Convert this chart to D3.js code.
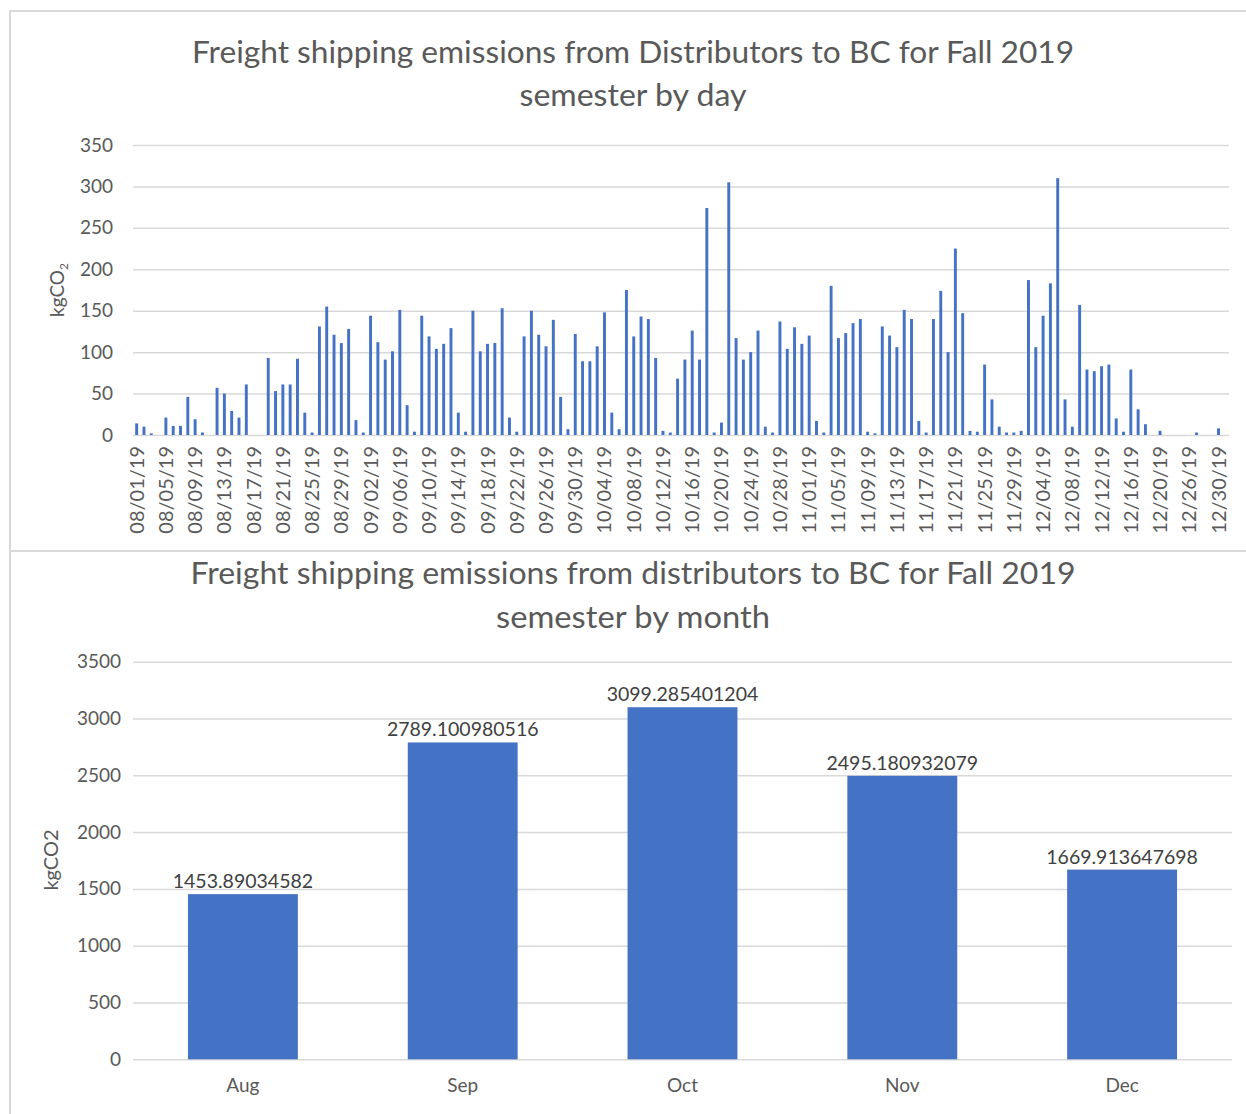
<!DOCTYPE html>
<html>
<head>
<meta charset="utf-8">
<title>Freight shipping emissions</title>
<script src="https://d3js.org/d3.v7.min.js"></script>
<style>
  body { margin: 0; background: #fff; }
  text { font-family: Lato, "Open Sans", sans-serif; }
</style>
</head>
<body>
<script>
// daily categories (dates present in the sheet)
var days = [
  "08/01/19","08/02/19","08/03/19","08/04/19","08/05/19","08/06/19","08/07/19","08/08/19","08/09/19","08/10/19",
  "08/11/19","08/12/19","08/13/19","08/14/19","08/15/19","08/16/19","08/17/19","08/18/19","08/19/19","08/20/19",
  "08/21/19","08/22/19","08/23/19","08/24/19","08/25/19","08/26/19","08/27/19","08/28/19","08/29/19","08/30/19","08/31/19",
  "09/01/19","09/02/19","09/03/19","09/04/19","09/05/19","09/06/19","09/07/19","09/08/19","09/09/19","09/10/19",
  "09/11/19","09/12/19","09/13/19","09/14/19","09/15/19","09/16/19","09/17/19","09/18/19","09/19/19","09/20/19",
  "09/21/19","09/22/19","09/23/19","09/24/19","09/25/19","09/26/19","09/27/19","09/28/19","09/29/19","09/30/19",
  "10/01/19","10/02/19","10/03/19","10/04/19","10/05/19","10/06/19","10/07/19","10/08/19","10/09/19","10/10/19",
  "10/11/19","10/12/19","10/13/19","10/14/19","10/15/19","10/16/19","10/17/19","10/18/19","10/19/19","10/20/19",
  "10/21/19","10/22/19","10/23/19","10/24/19","10/25/19","10/26/19","10/27/19","10/28/19","10/29/19","10/30/19","10/31/19",
  "11/01/19","11/02/19","11/03/19","11/04/19","11/05/19","11/06/19","11/07/19","11/08/19","11/09/19","11/10/19",
  "11/11/19","11/12/19","11/13/19","11/14/19","11/15/19","11/16/19","11/17/19","11/18/19","11/19/19","11/20/19",
  "11/21/19","11/22/19","11/23/19","11/24/19","11/25/19","11/26/19","11/27/19","11/28/19","11/29/19","11/30/19",
  "12/02/19","12/03/19","12/04/19","12/05/19","12/06/19","12/07/19","12/08/19","12/09/19","12/10/19","12/11/19",
  "12/12/19","12/13/19","12/14/19","12/15/19","12/16/19","12/17/19","12/18/19","12/19/19","12/20/19","12/21/19",
  "12/22/19","12/23/19","12/26/19","12/27/19","12/28/19","12/29/19","12/30/19","12/31/19"
];
var dailyKg = [
  14,10,2,0,21,11,11,46,19,3,
  0,57,50,29,21,61,0,0,93,53,
  61,61,92,27,3,131,155,121,111,128,18,
  3,144,112,91,101,151,36,4,144,119,
  104,110,129,27,4,150,101,110,111,153,
  21,4,119,150,121,107,139,46,7,122,
  89,89,107,148,27,7,175,119,143,140,
  93,5,3,68,91,126,91,274,3,15,
  305,117,91,100,126,10,3,137,104,130,110,
  120,17,3,180,117,123,135,140,4,2,
  131,120,106,151,140,17,3,140,174,100,
  225,147,5,4,85,43,10,3,3,5,
  187,106,144,183,310,43,10,157,79,77,
  83,85,20,4,79,31,13,0,5,0,
  0,0,0,3,0,0,8,0
];
var dayTicks = [0,50,100,150,200,250,300,350];

var months = ["Aug","Sep","Oct","Nov","Dec"];
var monthlyKg = [1453.89034582, 2789.100980516, 3099.285401204, 2495.180932079, 1669.913647698];
var monthTicks = [0,500,1000,1500,2000,2500,3000,3500];

var W = 1246, H = 1114;
var blue = "#4472C4", grid = "#d9d9d9", txt = "#595959";

var svg = d3.select("body").append("svg")
  .attr("width", W).attr("height", H);
svg.append("rect").attr("width", W).attr("height", H).attr("fill", "#fff");

// chart frames
svg.append("path")
  .attr("d", "M10,1114V11H1246M10,551H1246")
  .attr("fill", "none").attr("stroke", grid).attr("stroke-width", 2);

function title(g, x, y, str, len) {
  g.append("text").attr("x", x).attr("y", y).attr("text-anchor", "middle")
    .attr("font-size", 30).attr("fill", txt)
    .attr("textLength", len).attr("lengthAdjust", "spacingAndGlyphs")
    .text(str);
}

// ---------- top: by day ----------
var x1 = d3.scaleBand().domain(days).range([133, 1229.5])
  .paddingInner(0.6).paddingOuter(0.3);
var y1 = d3.scaleLinear().domain([0, 350]).range([435, 145]);

var g1 = svg.append("g");
title(g1, 633, 63, "Freight shipping emissions from Distributors to BC for Fall 2019", 882);
title(g1, 633, 106, "semester by day", 227);

var ya1 = g1.append("g").attr("transform", "translate(133,0)")
  .call(d3.axisLeft(y1).tickValues(dayTicks).tickSize(-(1229 - 133)).tickPadding(20));
ya1.select(".domain").remove();
ya1.selectAll("line").attr("stroke", grid).attr("stroke-width", 1.5);
ya1.selectAll("text").attr("fill", txt).attr("font-size", 19);

var xa1 = g1.append("g").attr("transform", "translate(0,435)")
  .call(d3.axisBottom(x1).tickValues(days.filter(function (d, i) { return i % 4 === 0; })).tickSize(0));
xa1.select(".domain").remove();
xa1.selectAll("text")
  .attr("transform", "rotate(-90)")
  .attr("x", -11).attr("y", 0).attr("dy", "0.35em")
  .style("text-anchor", "end")
  .attr("fill", txt).attr("font-size", 20);

g1.selectAll("rect.day").data(dailyKg).enter().append("rect")
  .attr("class", "day")
  .attr("x", function (d, i) { return x1(days[i]); })
  .attr("width", x1.bandwidth())
  .attr("y", function (d) { return y1(d); })
  .attr("height", function (d) { return y1(0) - y1(d); })
  .attr("fill", blue);

var yt1 = g1.append("text").attr("transform", "translate(64,290) rotate(-90)")
  .attr("text-anchor", "middle").attr("font-size", 19).attr("fill", txt);
yt1.append("tspan").text("kgCO");
yt1.append("tspan").attr("font-size", 12).attr("dy", 4).text("2");

// ---------- bottom: by month ----------
var x2 = d3.scaleBand().domain(months).range([133, 1232])
  .paddingInner(0.5).paddingOuter(0.25);
var y2 = d3.scaleLinear().domain([0, 3500]).range([1059.3, 661.7]);

var g2 = svg.append("g");
title(g2, 633, 584, "Freight shipping emissions from distributors to BC for Fall 2019", 885);
title(g2, 633, 628, "semester by month", 274);

var ya2 = g2.append("g").attr("transform", "translate(133,0)")
  .call(d3.axisLeft(y2).tickValues(monthTicks).tickFormat(d3.format("d"))
    .tickSize(-(1232 - 133)).tickPadding(12));
ya2.select(".domain").remove();
ya2.selectAll("line").attr("stroke", grid).attr("stroke-width", 1.5);
ya2.selectAll("text").attr("fill", txt).attr("font-size", 19);

var xa2 = g2.append("g").attr("transform", "translate(0,1059.3)")
  .call(d3.axisBottom(x2).tickSize(0).tickPadding(19));
xa2.select(".domain").remove();
xa2.selectAll("text").attr("fill", txt).attr("font-size", 19);

g2.selectAll("rect.month").data(monthlyKg).enter().append("rect")
  .attr("class", "month")
  .attr("x", function (d, i) { return x2(months[i]); })
  .attr("width", x2.bandwidth())
  .attr("y", function (d) { return y2(d); })
  .attr("height", function (d) { return y2(0) - y2(d); })
  .attr("fill", blue);

g2.selectAll("text.lbl").data(monthlyKg).enter().append("text")
  .attr("class", "lbl")
  .attr("x", function (d, i) { return x2(months[i]) + x2.bandwidth() / 2; })
  .attr("y", function (d) { return y2(d) - 6; })
  .attr("text-anchor", "middle").attr("font-size", 19.5).attr("fill", "#404040")
  .text(function (d) { return String(d); });

g2.append("text").attr("transform", "translate(58,860) rotate(-90)")
  .attr("text-anchor", "middle").attr("font-size", 20).attr("fill", txt)
  .text("kgCO2");
</script>
</body>
</html>
